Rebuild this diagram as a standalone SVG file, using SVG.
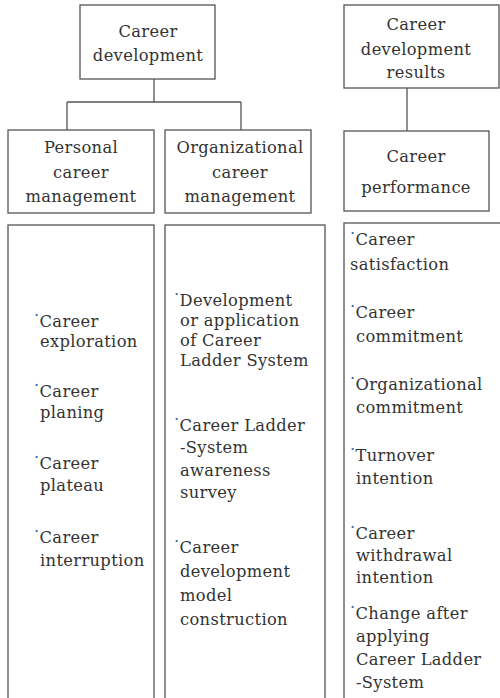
<svg xmlns="http://www.w3.org/2000/svg" width="500" height="698" viewBox="0 0 500 698">
<style>
.box{fill:#fff;stroke:#555;stroke-width:1.3}
.con{fill:none;stroke:#555;stroke-width:1.3}
text{font-family:"DejaVu Serif","Liberation Serif",serif;font-size:16.3px;letter-spacing:0.35px;fill:#333}
.c{text-anchor:middle}
.b{fill:#3d6aa8}
</style>
<rect width="500" height="698" fill="#fff"/>
<g id="connectors">
<path class="con" d="M154 66V102M67 102H241M67 102V130M241 102V130"/>
<path class="con" d="M407 84V131"/>
</g>
<g id="career-development">
<rect class="box" x="80" y="5" width="135" height="74"/>
<text class="c" x="148" y="37">Career</text>
<text class="c" x="148" y="61">development</text>
</g>
<g id="personal-career-management">
<rect class="box" x="8" y="130" width="146" height="83"/>
<text class="c" x="81" y="153">Personal</text>
<text class="c" x="81" y="178">career</text>
<text class="c" x="81" y="202">management</text>
</g>
<g id="organizational-career-management">
<rect class="box" x="165" y="130" width="146" height="83"/>
<text class="c" x="240" y="153">Organizational</text>
<text class="c" x="240" y="178">career</text>
<text class="c" x="240" y="202">management</text>
</g>
<g id="career-development-results">
<rect class="box" x="344" y="5" width="155" height="83"/>
<text class="c" x="416" y="30">Career</text>
<text class="c" x="416" y="55">development</text>
<text class="c" x="416" y="78">results</text>
</g>
<g id="career-performance">
<rect class="box" x="344" y="131" width="145" height="80"/>
<text class="c" x="416" y="162">Career</text>
<text class="c" x="416" y="193">performance</text>
</g>
<g id="personal-list">
<rect class="box" x="8" y="225" width="146" height="490"/>
<text x="34" y="327"><tspan class="b" dy="-6">·</tspan><tspan dy="6">Career</tspan></text>
<text x="40" y="347">exploration</text>
<text x="34" y="397"><tspan class="b" dy="-6">·</tspan><tspan dy="6">Career</tspan></text>
<text x="40" y="418">planing</text>
<text x="34" y="469"><tspan class="b" dy="-6">·</tspan><tspan dy="6">Career</tspan></text>
<text x="40" y="491">plateau</text>
<text x="34" y="543"><tspan class="b" dy="-6">·</tspan><tspan dy="6">Career</tspan></text>
<text x="40" y="566">interruption</text>
</g>
<g id="organizational-list">
<rect class="box" x="165" y="225" width="160" height="490"/>
<text x="174" y="306"><tspan class="b" dy="-6">·</tspan><tspan dy="6">Development</tspan></text>
<text x="180" y="326">or application</text>
<text x="180" y="346">of Career</text>
<text x="180" y="366">Ladder System</text>
<text x="174" y="431"><tspan class="b" dy="-6">·</tspan><tspan dy="6">Career Ladder</tspan></text>
<text x="180" y="453">-System</text>
<text x="180" y="476">awareness</text>
<text x="180" y="498">survey</text>
<text x="174" y="553"><tspan class="b" dy="-6">·</tspan><tspan dy="6">Career</tspan></text>
<text x="180" y="577">development</text>
<text x="180" y="601">model</text>
<text x="180" y="625">construction</text>
</g>
<g id="results-list">
<rect class="box" x="344" y="223" width="160" height="490"/>
<text x="350" y="245"><tspan class="b" dy="-6">·</tspan><tspan dy="6">Career</tspan></text>
<text x="350" y="270">satisfaction</text>
<text x="350" y="318"><tspan class="b" dy="-6">·</tspan><tspan dy="6">Career</tspan></text>
<text x="356" y="342">commitment</text>
<text x="350" y="390"><tspan class="b" dy="-6">·</tspan><tspan dy="6">Organizational</tspan></text>
<text x="356" y="413">commitment</text>
<text x="350" y="461"><tspan class="b" dy="-6">·</tspan><tspan dy="6">Turnover</tspan></text>
<text x="356" y="484">intention</text>
<text x="350" y="539"><tspan class="b" dy="-6">·</tspan><tspan dy="6">Career</tspan></text>
<text x="356" y="561">withdrawal</text>
<text x="356" y="583">intention</text>
<text x="350" y="619"><tspan class="b" dy="-6">·</tspan><tspan dy="6">Change after</tspan></text>
<text x="356" y="642">applying</text>
<text x="356" y="665">Career Ladder</text>
<text x="356" y="688">-System</text>
</g>
</svg>
